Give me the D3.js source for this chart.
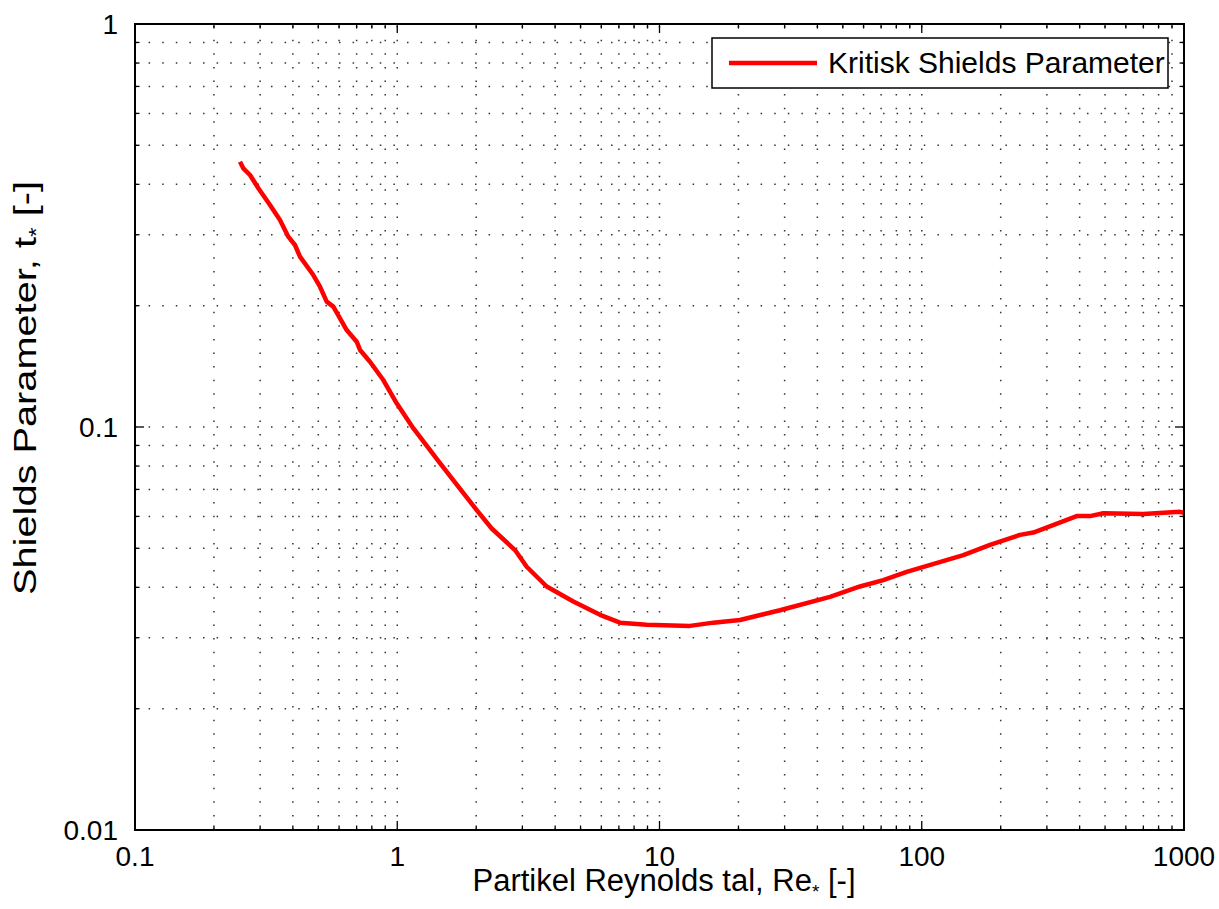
<!DOCTYPE html>
<html>
<head>
<meta charset="utf-8">
<script src="https://cdn.jsdelivr.net/npm/d3@7"></script>
<style>
  html, body { margin: 0; padding: 0; background: #fff; }
  svg { display: block; font-family: "Liberation Sans", Arial, Helvetica, sans-serif; }
</style>
</head>
<body>
<svg id="chart" width="1219" height="909"></svg>
<script>
// Critical Shields parameter versus particle Reynolds number
const reynolds = [0.2514, 0.2588, 0.2745, 0.2954, 0.3272, 0.3571, 0.3842, 0.4074, 0.4257, 0.4785,
  0.5074, 0.5383, 0.5705, 0.6415, 0.7004, 0.7211, 0.7870, 0.8847, 0.9952, 1.151,
  1.455, 2.009, 2.292, 2.812, 3.116, 3.715, 4.692, 5.932, 7.071, 8.938,
  13.07, 16.04, 20.28, 28.81, 44.69, 58.15, 71.36, 87.6, 144.1, 182.1,
  236.9, 266.3, 389.9, 438.2, 492.4, 699.5, 965.4, 1000];
const shields = [0.4552, 0.4385, 0.4220, 0.3912, 0.3556, 0.3264, 0.2967, 0.2829, 0.2646, 0.2383,
  0.2229, 0.2047, 0.1989, 0.1740, 0.1628, 0.1553, 0.1452, 0.1308, 0.1145, 0.0993,
  0.0813, 0.0622, 0.0560, 0.0495, 0.0450, 0.0402, 0.0369, 0.0342, 0.0327, 0.0323,
  0.0321, 0.0327, 0.0332, 0.0351, 0.0379, 0.0402, 0.0417, 0.0437, 0.0481, 0.0510,
  0.0540, 0.0547, 0.0601, 0.0601, 0.0611, 0.0608, 0.0616, 0.0612];

const xTickValues = [0.1, 1, 10, 100, 1000];
const xTickLabels = ["0.1", "1", "10", "100", "1000"];
const yTickValues = [0.01, 0.1, 1];
const yTickLabels = ["0.01", "0.1", "1"];

const seriesName = "Kritisk Shields Parameter";

const svg = d3.select("#chart");
const plot = { left: 135, right: 1184, top: 24, bottom: 830 };

const x = d3.scaleLog().domain([0.1, 1000]).range([plot.left, plot.right]);
const y = d3.scaleLog().domain([0.01, 1]).range([plot.bottom, plot.top]);

// minor tick positions for each decade
const xMinor = [];
for (let e = -1; e < 3; e++) for (let k = 2; k <= 9; k++) xMinor.push(k * Math.pow(10, e));
const yMinor = [];
for (let e = -2; e < 0; e++) for (let k = 2; k <= 9; k++) yMinor.push(k * Math.pow(10, e));

const tickFont = 28, labelFont = 31, legendFont = 30;

// dotted grid
const grid = svg.append("g").attr("stroke", "#333").attr("stroke-width", 1.5)
  .attr("stroke-dasharray", "1.5,12.1");
xMinor.concat(xTickValues.slice(1, -1)).forEach(v => {
  grid.append("line").attr("x1", x(v)).attr("x2", x(v)).attr("y1", plot.bottom).attr("y2", plot.top);
});
yMinor.concat(yTickValues.slice(1, -1)).forEach(v => {
  grid.append("line").attr("x1", plot.left).attr("x2", plot.right).attr("y1", y(v)).attr("y2", y(v));
});

// inward ticks on all four sides
const ticks = svg.append("g").attr("stroke", "#000").attr("stroke-width", 1.3);
const majorLen = 9, minorLen = 4.5;
function xTick(v, len) {
  ticks.append("line").attr("x1", x(v)).attr("x2", x(v)).attr("y1", plot.bottom).attr("y2", plot.bottom - len);
  ticks.append("line").attr("x1", x(v)).attr("x2", x(v)).attr("y1", plot.top).attr("y2", plot.top + len);
}
function yTick(v, len) {
  ticks.append("line").attr("x1", plot.left).attr("x2", plot.left + len).attr("y1", y(v)).attr("y2", y(v));
  ticks.append("line").attr("x1", plot.right).attr("x2", plot.right - len).attr("y1", y(v)).attr("y2", y(v));
}
xTickValues.forEach(v => xTick(v, majorLen));
xMinor.forEach(v => xTick(v, minorLen));
yTickValues.forEach(v => yTick(v, majorLen));
yMinor.forEach(v => yTick(v, minorLen));

// tick labels
svg.append("g").selectAll("text").data(xTickValues).join("text")
  .attr("x", d => x(d)).attr("y", plot.bottom + 36)
  .attr("text-anchor", "middle").attr("font-size", tickFont)
  .text((d, i) => xTickLabels[i]);
svg.append("g").selectAll("text").data(yTickValues).join("text")
  .attr("x", plot.left - 17).attr("y", d => y(d) + 10)
  .attr("text-anchor", "end").attr("font-size", tickFont)
  .text((d, i) => yTickLabels[i]);

// curve
svg.append("defs").append("clipPath").attr("id", "plotClip")
  .append("rect").attr("x", plot.left).attr("y", plot.top)
  .attr("width", plot.right - plot.left).attr("height", plot.bottom - plot.top);
const line = d3.line().x((d, i) => x(reynolds[i])).y((d, i) => y(shields[i]));
svg.append("path").datum(reynolds)
  .attr("clip-path", "url(#plotClip)")
  .attr("d", line)
  .attr("fill", "none").attr("stroke", "#ff0000").attr("stroke-width", 4.5)
  .attr("stroke-linejoin", "round");

// axes box
svg.append("rect").attr("x", plot.left).attr("y", plot.top)
  .attr("width", plot.right - plot.left).attr("height", plot.bottom - plot.top)
  .attr("fill", "none").attr("stroke", "#000").attr("stroke-width", 2);

// legend
const lg = svg.append("g");
lg.append("rect").attr("x", 712).attr("y", 38).attr("width", 456).attr("height", 50)
  .attr("fill", "#fff").attr("stroke", "#000").attr("stroke-width", 1.5);
lg.append("line").attr("x1", 729).attr("x2", 817).attr("y1", 63).attr("y2", 63)
  .attr("stroke", "#ff0000").attr("stroke-width", 4.5);
lg.append("text").attr("x", 828).attr("y", 73).attr("font-size", legendFont).text(seriesName);

// axis titles
const xt = svg.append("text").attr("x", 664).attr("y", 891)
  .attr("text-anchor", "middle").attr("font-size", labelFont);
xt.append("tspan").text("Partikel Reynolds tal, Re");
xt.append("tspan").attr("font-size", 19).attr("dy", 7).text("*");
xt.append("tspan").attr("dy", -7).text(" [-]");

const yt = svg.append("text").attr("transform", "translate(36,388) rotate(-90)")
  .attr("text-anchor", "middle").attr("font-size", 32)
  .attr("textLength", 414).attr("lengthAdjust", "spacingAndGlyphs");
yt.append("tspan").text("Shields Parameter,  t");
yt.append("tspan").attr("font-size", 20).attr("dy", 7).text("*");
yt.append("tspan").attr("dy", -7).text(" [-]");
</script>
</body>
</html>
